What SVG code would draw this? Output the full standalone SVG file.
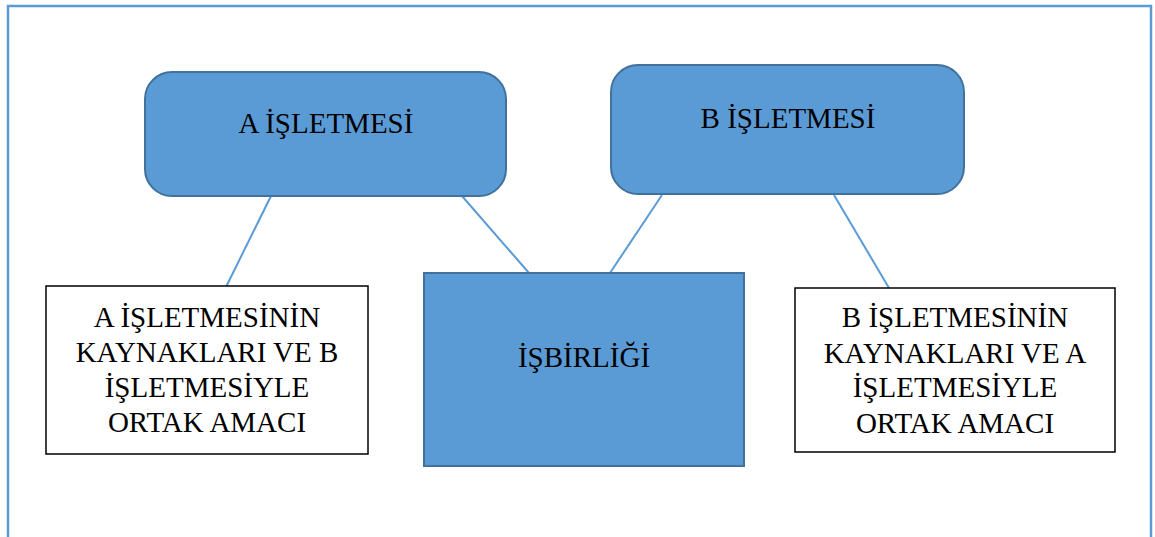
<svg xmlns="http://www.w3.org/2000/svg" width="1155" height="537" viewBox="0 0 1155 537">
<style>
.frame{fill:none;stroke:#5B9BD5;stroke-width:2.5}
.blue{fill:#5B9BD5;stroke:#41719C;stroke-width:2}
.white{fill:#fff;stroke:#000;stroke-width:1.5}
.conn{stroke:#5B9BD5;stroke-width:2;fill:none}
text{font-family:"Liberation Serif","Times New Roman",serif;font-size:29px;fill:#000;text-anchor:middle}
</style>
<rect width="1155" height="537" fill="#fff"/>
<path class="frame" d="M8,537 V6 H1151 V537"/>
<g id="connectors">
<line class="conn" x1="271" y1="196" x2="226" y2="287"/>
<line class="conn" x1="462" y1="196" x2="529" y2="273"/>
<line class="conn" x1="662" y1="195" x2="610" y2="273"/>
<line class="conn" x1="834" y1="195" x2="889" y2="288"/>
</g>
<g id="a-isletmesi">
<rect class="blue" x="145" y="72" width="361" height="124" rx="27"/>
<text x="326" y="133">A İŞLETMESİ</text>
</g>
<g id="b-isletmesi">
<rect class="blue" x="611" y="65" width="353" height="129" rx="27"/>
<text x="788" y="128">B İŞLETMESİ</text>
</g>
<g id="isbirligi">
<rect class="blue" x="424" y="273" width="320" height="193"/>
<text x="584" y="367">İŞBİRLİĞİ</text>
</g>
<g id="a-kaynak">
<rect class="white" x="46" y="286" width="322" height="168"/>
<text x="207" y="327">A İŞLETMESİNİN</text>
<text x="207" y="362">KAYNAKLARI VE B</text>
<text x="207" y="397">İŞLETMESİYLE</text>
<text x="207" y="432">ORTAK AMACI</text>
</g>
<g id="b-kaynak">
<rect class="white" x="795" y="288" width="320" height="164"/>
<text x="955" y="327">B İŞLETMESİNİN</text>
<text x="955" y="363">KAYNAKLARI VE A</text>
<text x="955" y="397">İŞLETMESİYLE</text>
<text x="955" y="433">ORTAK AMACI</text>
</g>
</svg>
